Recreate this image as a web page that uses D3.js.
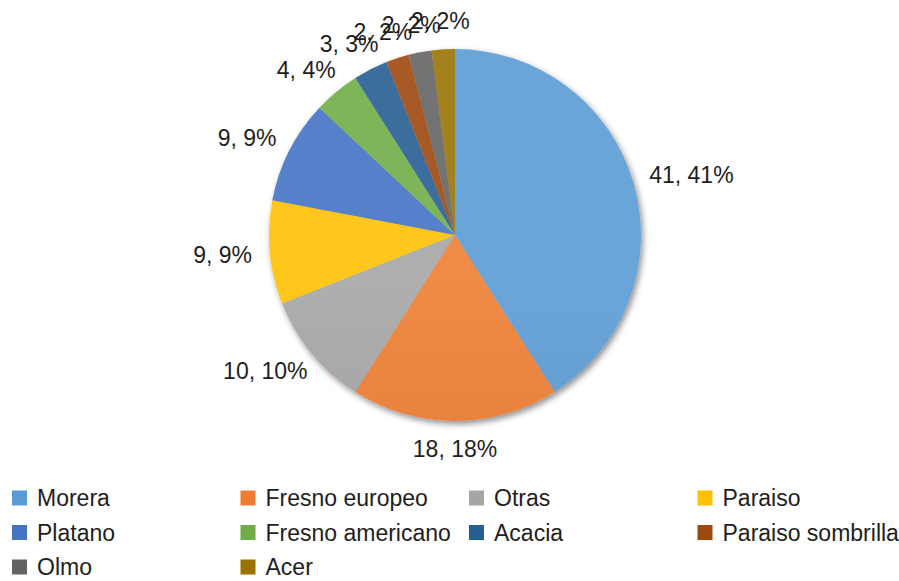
<!DOCTYPE html>
<html>
<head>
<meta charset="utf-8">
<script src="https://cdn.jsdelivr.net/npm/d3@7"></script>
<style>
  html, body { margin: 0; padding: 0; background: #fff; }
  svg { display: block; font-family: "Liberation Sans", Arial, sans-serif; }
</style>
</head>
<body>
<svg id="chart" width="899" height="581"></svg>
<script>
const categories = ["Morera", "Fresno europeo", "Otras", "Paraiso", "Platano",
  "Fresno americano", "Acacia", "Paraiso sombrilla", "Olmo", "Acer"];
const values = [41, 18, 10, 9, 9, 4, 3, 2, 2, 2];
const colors = ["#5B9BD5", "#ED7D31", "#A5A5A5", "#FFC000", "#4472C4",
  "#70AD47", "#255E91", "#9E480E", "#636363", "#997300"];

const W = 899, H = 581;
const cx = 455, cy = 235, R = 186;
const svg = d3.select("#chart");
const defs = svg.append("defs");

// shadow filter
const f = defs.append("filter").attr("id", "shadow")
  .attr("x", "-10%").attr("y", "-10%").attr("width", "125%").attr("height", "125%");
f.append("feGaussianBlur").attr("in", "SourceAlpha").attr("stdDeviation", 3).attr("result", "b");
f.append("feOffset").attr("in", "b").attr("dx", 2).attr("dy", 3).attr("result", "o");
f.append("feComponentTransfer").attr("in", "o").attr("result", "s")
  .append("feFuncA").attr("type", "linear").attr("slope", 0.45);
const m = f.append("feMerge");
m.append("feMergeNode").attr("in", "s");
m.append("feMergeNode").attr("in", "SourceGraphic");

colors.forEach((c, i) => {
  const g = defs.append("linearGradient").attr("id", "grad" + i)
    .attr("gradientUnits", "userSpaceOnUse")
    .attr("x1", 0).attr("y1", cy - R).attr("x2", 0).attr("y2", cy + R);
  g.append("stop").attr("offset", "0%").attr("stop-color", d3.interpolateRgb(c, "#fff")(0.1));
  g.append("stop").attr("offset", "100%").attr("stop-color", d3.rgb(c).darker(0.2));
});

const pie = d3.pie().sort(null).value(d => d)(values);
const arc = d3.arc().innerRadius(0).outerRadius(R);
const total = d3.sum(values);

const gPie = svg.append("g").attr("transform", `translate(${cx},${cy})`).attr("filter", "url(#shadow)");
gPie.selectAll("path").data(pie).join("path")
  .attr("d", arc)
  .attr("fill", (d, i) => `url(#grad${i})`);

// labels
const fontSize = 23, off = 18, lh = 20;
const gLab = svg.append("g").attr("transform", `translate(${cx},${cy})`);
pie.forEach((d, i) => {
  const a = (d.startAngle + d.endAngle) / 2;
  const s = Math.sin(a), c = Math.cos(a);
  const t = gLab.append("text")
    .attr("font-size", fontSize)
    .attr("fill", "#1e1e1e")
    .attr("text-anchor", "middle")
    .attr("dy", "0.35em")
    .text(`${values[i]}, ${Math.round(values[i] / total * 100)}%`);
  const w = t.node().getComputedTextLength();
  const px = (R + off) * s, py = -(R + off) * c;
  t.attr("x", px + w / 2 * s).attr("y", py - lh / 2 * c);
});

// legend
const legX0 = 12, colW = 228.5, legY0 = 498, rowH = 34.5, nCols = 4, sq = 15;
const gLeg = svg.append("g");
categories.forEach((name, i) => {
  const col = i % nCols, row = Math.floor(i / nCols);
  const x = legX0 + col * colW, y = legY0 + row * rowH;
  gLeg.append("rect").attr("x", x).attr("y", y - sq / 2).attr("width", sq).attr("height", sq)
    .attr("fill", colors[i]);
  gLeg.append("text").attr("x", x + 25).attr("y", y).attr("dy", "0.35em")
    .attr("font-size", 23).attr("fill", "#1e1e1e").text(name);
});
</script>
</body>
</html>
